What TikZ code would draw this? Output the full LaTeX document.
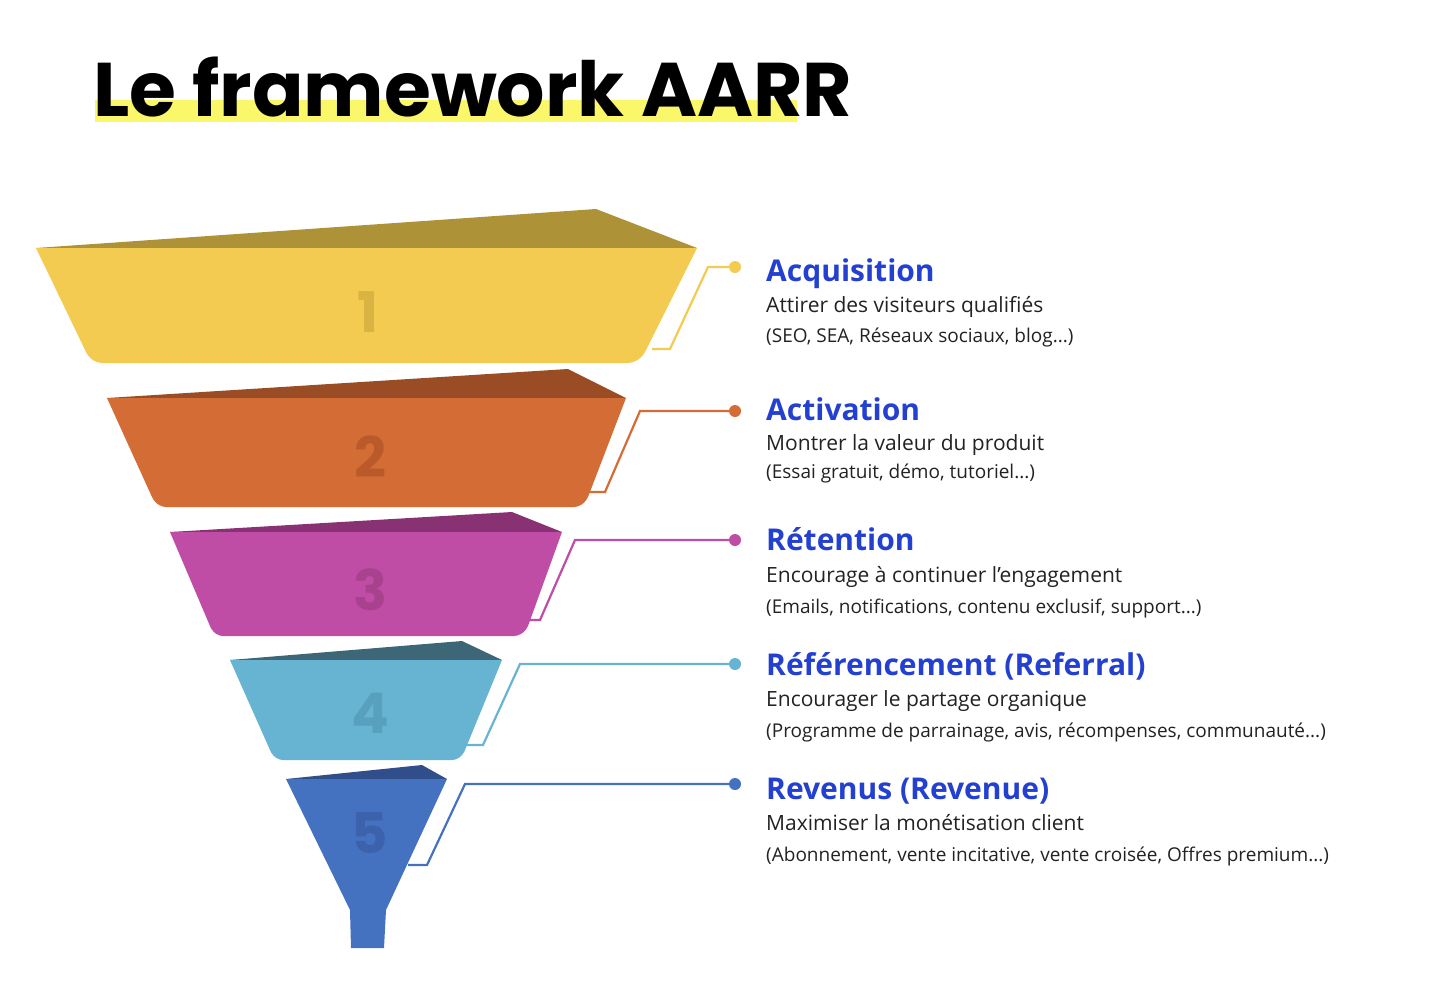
\documentclass[tikz,border=0pt]{standalone}
\usepackage{fontspec}
\setmainfont{Open Sans}
\newfontfamily\titlefont{Poppins}
\definecolor{c1}{HTML}{F2CB50}\definecolor{d1}{HTML}{AE9238}\definecolor{n1}{HTML}{D9B443}
\definecolor{c2}{HTML}{D46C35}\definecolor{d2}{HTML}{9A4D24}\definecolor{n2}{HTML}{BA5A2B}
\definecolor{c3}{HTML}{BF4CA5}\definecolor{d3}{HTML}{883274}\definecolor{n3}{HTML}{A8428F}
\definecolor{c4}{HTML}{67B3D2}\definecolor{d4}{HTML}{3D6677}\definecolor{n4}{HTML}{58A0BE}
\definecolor{c5}{HTML}{4571C1}\definecolor{d5}{HTML}{304F8A}\definecolor{n5}{HTML}{3B62AA}
\definecolor{ttl}{HTML}{2340D0}\definecolor{hl}{HTML}{FAF86A}\definecolor{txt}{HTML}{222222}
\tikzset{
 num/.style={font=\titlefont\bfseries\fontsize{56}{56}\selectfont},
 head/.style={anchor=base west,text=ttl,font=\bfseries\fontsize{30}{30}\selectfont,inner sep=0},
 sub/.style={anchor=base west,text=txt,font=\fontsize{21}{21}\selectfont,inner sep=0},
 ex/.style={anchor=base west,text=txt,font=\fontsize{19}{19}\selectfont,inner sep=0},
 conn/.style={line width=2.2pt},
}
\begin{document}
\begin{tikzpicture}[x=1pt,y=-1pt]
\useasboundingbox (0,0) rectangle (1442,980);
\fill[hl] (95,100) rectangle (797,122);
\node[anchor=base west,inner sep=0,font=\titlefont\bfseries\fontsize{76}{76}\selectfont] (title) at (93,116) {Le framework AARR};
% band 1
\fill[d1] (36,248) -- (596,209) -- (697,248) -- cycle;
\fill[c1] (36,248) -- (697,248) -- (645,352) [rounded corners=10] -- (638,363) -- (92,363) [sharp corners] -- (86,352) -- cycle;
\node[num,text=n1] (n1) at (368,312) {1};
% band 2
\fill[d2] (107,398) -- (568,369) -- (626,398) -- cycle;
\fill[c2] (107,398) -- (626,398) -- (588,497) [rounded corners=8] -- (582,507) -- (158,507) [sharp corners] -- (152,497) -- cycle;
\node[num,text=n2] (n2) at (370,457) {2};
% band 3
\fill[d3] (170,532) -- (512,512) -- (562,532) -- cycle;
\fill[c3] (170,532) -- (562,532) -- (528,626) [rounded corners=8] -- (522,636) -- (215,636) [sharp corners] -- (210,626) -- cycle;
\node[num,text=n3] (n3) at (370,590) {3};
% band 4
\fill[d4] (230,660) -- (462,641) -- (502,660) -- cycle;
\fill[c4] (230,660) -- (502,660) -- (465,750) [rounded corners=8] -- (460,760) -- (275,760) [sharp corners] -- (270,750) -- cycle;
\node[num,text=n4] (n4) at (370,713) {4};
% band 5
\fill[d5] (286,779) -- (422,765) -- (447,779) -- cycle;
\fill[c5] (286,779) -- (447,779) -- (386,910) -- (384,948) -- (351,948) -- (350,910) -- cycle;
\node[num,text=n5] (n5) at (370,833) {5};
% connectors
\coordinate (p1) at (735,267); \coordinate (p2) at (735,411); \coordinate (p3) at (735,540); \coordinate (p4) at (735,664); \coordinate (p5) at (735,784);
\draw[conn,c1] (652,349) -- (670,349) -- (708,267) -- (p1); \fill[c1] (p1) circle (6);
\draw[conn,c2] (585,492) -- (605,492) -- (640,411) -- (p2); \fill[c2] (p2) circle (6);
\draw[conn,c3] (522,620) -- (540,620) -- (575,540) -- (p3); \fill[c3] (p3) circle (6);
\draw[conn,c4] (463,745) -- (483,745) -- (520,664) -- (p4); \fill[c4] (p4) circle (6);
\draw[conn,c5] (408,865) -- (427,865) -- (465,784) -- (p5); \fill[c5] (p5) circle (6);
% texts
\node[head] (h1) at (766,281) {Acquisition};
\node[sub] (s1) at (766,312) {Attirer des visiteurs qualifiés};
\node[ex] (e1) at (766,342) {(SEO, SEA, Réseaux sociaux, blog...)};
\node[head] (h2) at (766,420) {Activation};
\node[sub] (s2) at (766,450) {Montrer la valeur du produit};
\node[ex] (e2) at (766,478) {(Essai gratuit, démo, tutoriel...)};
\node[head] (h3) at (766,550) {Rétention};
\node[sub] (s3) at (766,582) {Encourage à continuer l’engagement};
\node[ex] (e3) at (766,613) {(Emails, notifications, contenu exclusif, support...)};
\node[head] (h4) at (766,675) {Référencement (Referral)};
\node[sub] (s4) at (766,706) {Encourager le partage organique};
\node[ex] (e4) at (766,737) {(Programme de parrainage, avis, récompenses, communauté...)};
\node[head] (h5) at (766,799) {Revenus (Revenue)};
\node[sub] (s5) at (766,830) {Maximiser la monétisation client};
\node[ex] (e5) at (766,861) {(Abonnement, vente incitative, vente croisée, Offres premium...)};
\end{tikzpicture}
\end{document}
